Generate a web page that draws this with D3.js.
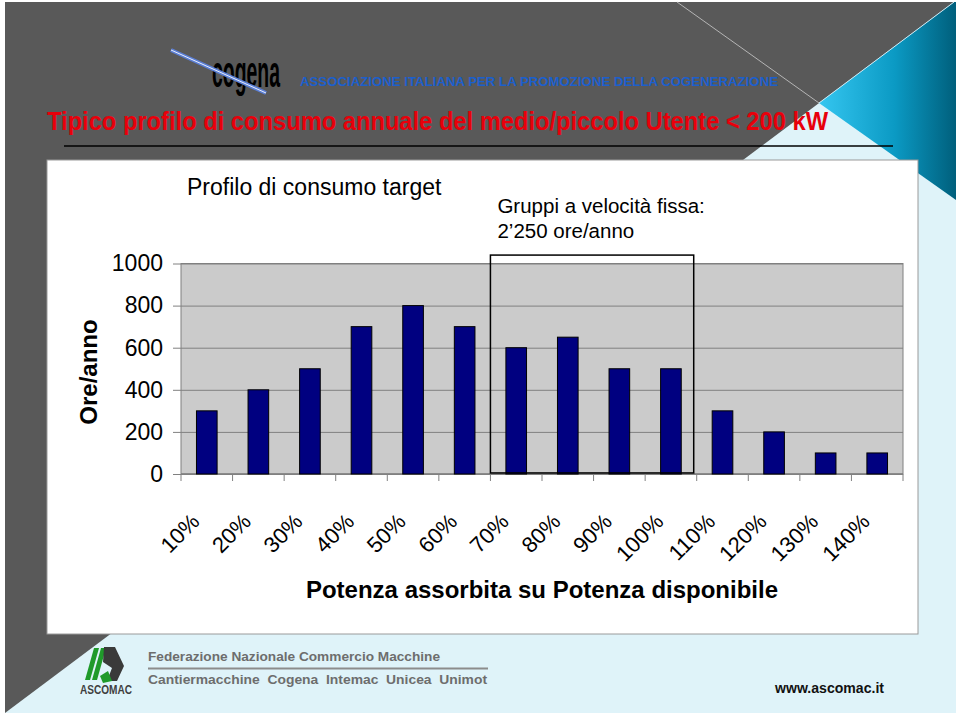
<!DOCTYPE html>
<html>
<head>
<meta charset="utf-8">
<script src="https://cdn.jsdelivr.net/npm/d3@7"></script>
<style>
  body { margin: 0; background: #fff; }
  svg { display: block; font-family: "Liberation Sans", Arial, sans-serif; }
</style>
</head>
<body>
<svg id="chart" width="960" height="717"></svg>
<script>
// chart data
var categories = ['10%', '20%', '30%', '40%', '50%', '60%', '70%', '80%', '90%', '100%', '110%', '120%', '130%', '140%'];
var hours = [300, 400, 500, 700, 800, 700, 600, 650, 500, 500, 300, 200, 100, 100];
var yTicks = [0, 200, 400, 600, 800, 1000];
var boxedCategories = ['70%', '80%', '90%', '100%'];

var svg = d3.select('#chart');

// --- slide background ---
var defs = svg.append('defs');
var grad = defs.append('linearGradient').attr('id', 'teal')
    .attr('x1', '0%').attr('y1', '0%').attr('x2', '100%').attr('y2', '0%');
grad.append('stop').attr('offset', '0%').attr('stop-color', '#35c6f0');
grad.append('stop').attr('offset', '55%').attr('stop-color', '#0b9ac4');
grad.append('stop').attr('offset', '100%').attr('stop-color', '#005f7c');

svg.append('rect').attr('x', 5).attr('y', 2).attr('width', 951).attr('height', 711).attr('fill', '#dff3f9');
svg.append('polygon').attr('points', '5,2 954,2 5,713').attr('fill', '#595959');
svg.append('polygon').attr('points', '954,2 956,2 956,200 819,103').attr('fill', 'url(#teal)');
svg.append('line').attr('x1', 677).attr('y1', 2).attr('x2', 819).attr('y2', 103)
    .attr('stroke', '#b5b5b5').attr('stroke-width', 1);
svg.append('line').attr('x1', 819).attr('y1', 103).attr('x2', 954).attr('y2', 2)
    .attr('stroke', '#cfeaf3').attr('stroke-width', 1);

// --- header ---
var logo = svg.append('g');
logo.append('text').attr('transform', 'translate(212,87) scale(1,2.3)')
    .attr('font-size', 19).attr('font-weight', 'bold').attr('fill', '#000')
    .attr('textLength', 68).attr('lengthAdjust', 'spacingAndGlyphs').text('cogena');
logo.append('line').attr('x1', 171).attr('y1', 50).attr('x2', 266).attr('y2', 93)
    .attr('stroke', '#5b7fd6').attr('stroke-width', 4);
logo.append('line').attr('x1', 171).attr('y1', 50).attr('x2', 266).attr('y2', 93)
    .attr('stroke', '#e8eefc').attr('stroke-width', 1);

svg.append('text').attr('x', 300).attr('y', 86)
    .attr('font-size', 13).attr('font-weight', 'bold').attr('fill', '#1c5fcc')
    .attr('textLength', 478).attr('lengthAdjust', 'spacingAndGlyphs')
    .text('ASSOCIAZIONE ITALIANA PER LA PROMOZIONE DELLA COGENERAZIONE');

svg.append('text').attr('x', 47).attr('y', 130)
    .attr('font-size', 25).attr('font-weight', 'bold').attr('fill', '#e8000b')
    .attr('textLength', 781).attr('lengthAdjust', 'spacingAndGlyphs')
    .text('Tipico profilo di consumo annuale del medio/piccolo Utente < 200 kW');

svg.append('line').attr('x1', 64).attr('y1', 146).attr('x2', 893).attr('y2', 146)
    .attr('stroke', '#000').attr('stroke-width', 1.5);

// --- chart panel ---
svg.append('rect').attr('x', 47).attr('y', 160).attr('width', 871).attr('height', 474)
    .attr('fill', '#fff').attr('stroke', '#9a9a9a');

var plot = { left: 181, right: 903, top: 263.5, bottom: 474 };

var x = d3.scaleBand().domain(categories).range([plot.left, plot.right]).padding(0);
var y = d3.scaleLinear().domain([0, 1000]).range([plot.bottom, plot.top]);
var step = x.step();
var barW = step * 0.4;

// plot background
svg.append('rect').attr('x', plot.left).attr('y', plot.top)
    .attr('width', plot.right - plot.left).attr('height', plot.bottom - plot.top)
    .attr('fill', '#cbcbcb').attr('stroke', '#808080');

// gridlines
svg.append('g').attr('transform', 'translate(' + plot.left + ',0)')
    .call(d3.axisLeft(y).tickValues(yTicks).tickSize(-(plot.right - plot.left)).tickFormat(''))
    .call(function(g) {
        g.select('.domain').remove();
        g.selectAll('line').attr('stroke', '#808080');
    });

// y axis ticks + labels
svg.append('g').attr('transform', 'translate(' + plot.left + ',0)')
    .call(d3.axisLeft(y).tickValues(yTicks).tickFormat(d3.format('d')).tickSize(8).tickPadding(10))
    .call(function(g) {
        g.select('.domain').remove();
        g.selectAll('line').attr('stroke', '#808080');
        g.selectAll('text').attr('font-size', 23).attr('fill', '#000')
            .attr('font-family', '"Liberation Sans", Arial, sans-serif');
    });

// x axis line and tick marks at category boundaries
var boundaries = categories.map(function(c) { return x(c); }).concat([plot.right]);
svg.append('line').attr('x1', plot.left).attr('x2', plot.right)
    .attr('y1', plot.bottom).attr('y2', plot.bottom).attr('stroke', '#808080').attr('stroke-width', 1.5);
svg.append('g').selectAll('line').data(boundaries).join('line')
    .attr('x1', function(d) { return d; }).attr('x2', function(d) { return d; })
    .attr('y1', plot.bottom).attr('y2', plot.bottom + 7)
    .attr('stroke', '#808080');

// bars
svg.append('g').selectAll('rect').data(hours).join('rect')
    .attr('x', function(d, i) { return x(categories[i]) + (step - barW) / 2; })
    .attr('y', function(d) { return y(d); })
    .attr('width', barW)
    .attr('height', function(d) { return y(0) - y(d); })
    .attr('fill', '#000080').attr('stroke', '#000').attr('stroke-width', 1);

// x tick labels, rotated
svg.append('g').selectAll('text').data(categories).join('text')
    .attr('transform', function(d) {
        return 'translate(' + (x(d) + step / 2 - 6) + ',523) rotate(-45)';
    })
    .attr('text-anchor', 'end').attr('font-size', 22).attr('fill', '#000')
    .text(function(d) { return d; });

// highlighted box around fixed-speed range
var boxLeft = x(boxedCategories[0]);
var boxRight = x(boxedCategories[boxedCategories.length - 1]) + step - 3;
svg.append('rect').attr('x', boxLeft).attr('y', y(1040))
    .attr('width', boxRight - boxLeft).attr('height', y(5) - y(1040))
    .attr('fill', 'none').attr('stroke', '#000').attr('stroke-width', 1.5);

// titles
svg.append('text').attr('x', 187).attr('y', 195)
    .attr('font-size', 23).attr('fill', '#000').text('Profilo di consumo target');

svg.append('text').attr('x', boxLeft + 7).attr('y', 213)
    .attr('font-size', 20.5).attr('fill', '#000').text('Gruppi a velocità fissa:');
svg.append('text').attr('x', boxLeft + 7).attr('y', 238)
    .attr('font-size', 20.5).attr('fill', '#000').text('2\u2019250 ore/anno');

svg.append('text').attr('transform', 'translate(97,372) rotate(-90)')
    .attr('text-anchor', 'middle').attr('font-size', 24).attr('font-weight', 'bold')
    .attr('fill', '#000').text('Ore/anno');

svg.append('text').attr('x', (plot.left + plot.right) / 2).attr('y', 598)
    .attr('text-anchor', 'middle').attr('font-size', 24).attr('font-weight', 'bold')
    .attr('fill', '#000').text('Potenza assorbita su Potenza disponibile');

// --- footer ---
var foot = svg.append('g');
foot.append('polygon').attr('points', '85,680 94,648 99,648 90,680').attr('fill', '#1f9a2a');
foot.append('polygon').attr('points', '92,680 101,648 106,648 97,680').attr('fill', '#1f9a2a');
foot.append('polygon').attr('points', '104,647 115,647 124,666 117,681 107,681 112,668 103,662')
    .attr('fill', '#3a3a3a');
foot.append('polygon').attr('points', '100,676 108,671 112,681 103,683').attr('fill', '#1f9a2a');
foot.append('text').attr('x', 80).attr('y', 694)
    .attr('font-size', 12).attr('font-weight', 'bold').attr('fill', '#3f3f3f')
    .attr('textLength', 52).attr('lengthAdjust', 'spacingAndGlyphs').text('ASCOMAC');

foot.append('text').attr('x', 148).attr('y', 661)
    .attr('font-size', 13).attr('font-weight', 'bold').attr('fill', '#6d6d6d')
    .attr('textLength', 292).attr('lengthAdjust', 'spacingAndGlyphs')
    .text('Federazione Nazionale Commercio Macchine');
foot.append('line').attr('x1', 148).attr('y1', 668.5).attr('x2', 488).attr('y2', 668.5)
    .attr('stroke', '#8c8c8c').attr('stroke-width', 2);
foot.append('text').attr('x', 148).attr('y', 684)
    .attr('font-size', 13).attr('font-weight', 'bold').attr('fill', '#6d6d6d')
    .attr('textLength', 339).attr('lengthAdjust', 'spacingAndGlyphs')
    .attr('xml:space', 'preserve')
    .text('Cantiermacchine  Cogena  Intemac  Unicea  Unimot');

foot.append('text').attr('x', 775).attr('y', 693)
    .attr('font-size', 14).attr('font-weight', 'bold').attr('fill', '#111')
    .attr('textLength', 109).attr('lengthAdjust', 'spacingAndGlyphs').text('www.ascomac.it');
</script>
</body>
</html>
